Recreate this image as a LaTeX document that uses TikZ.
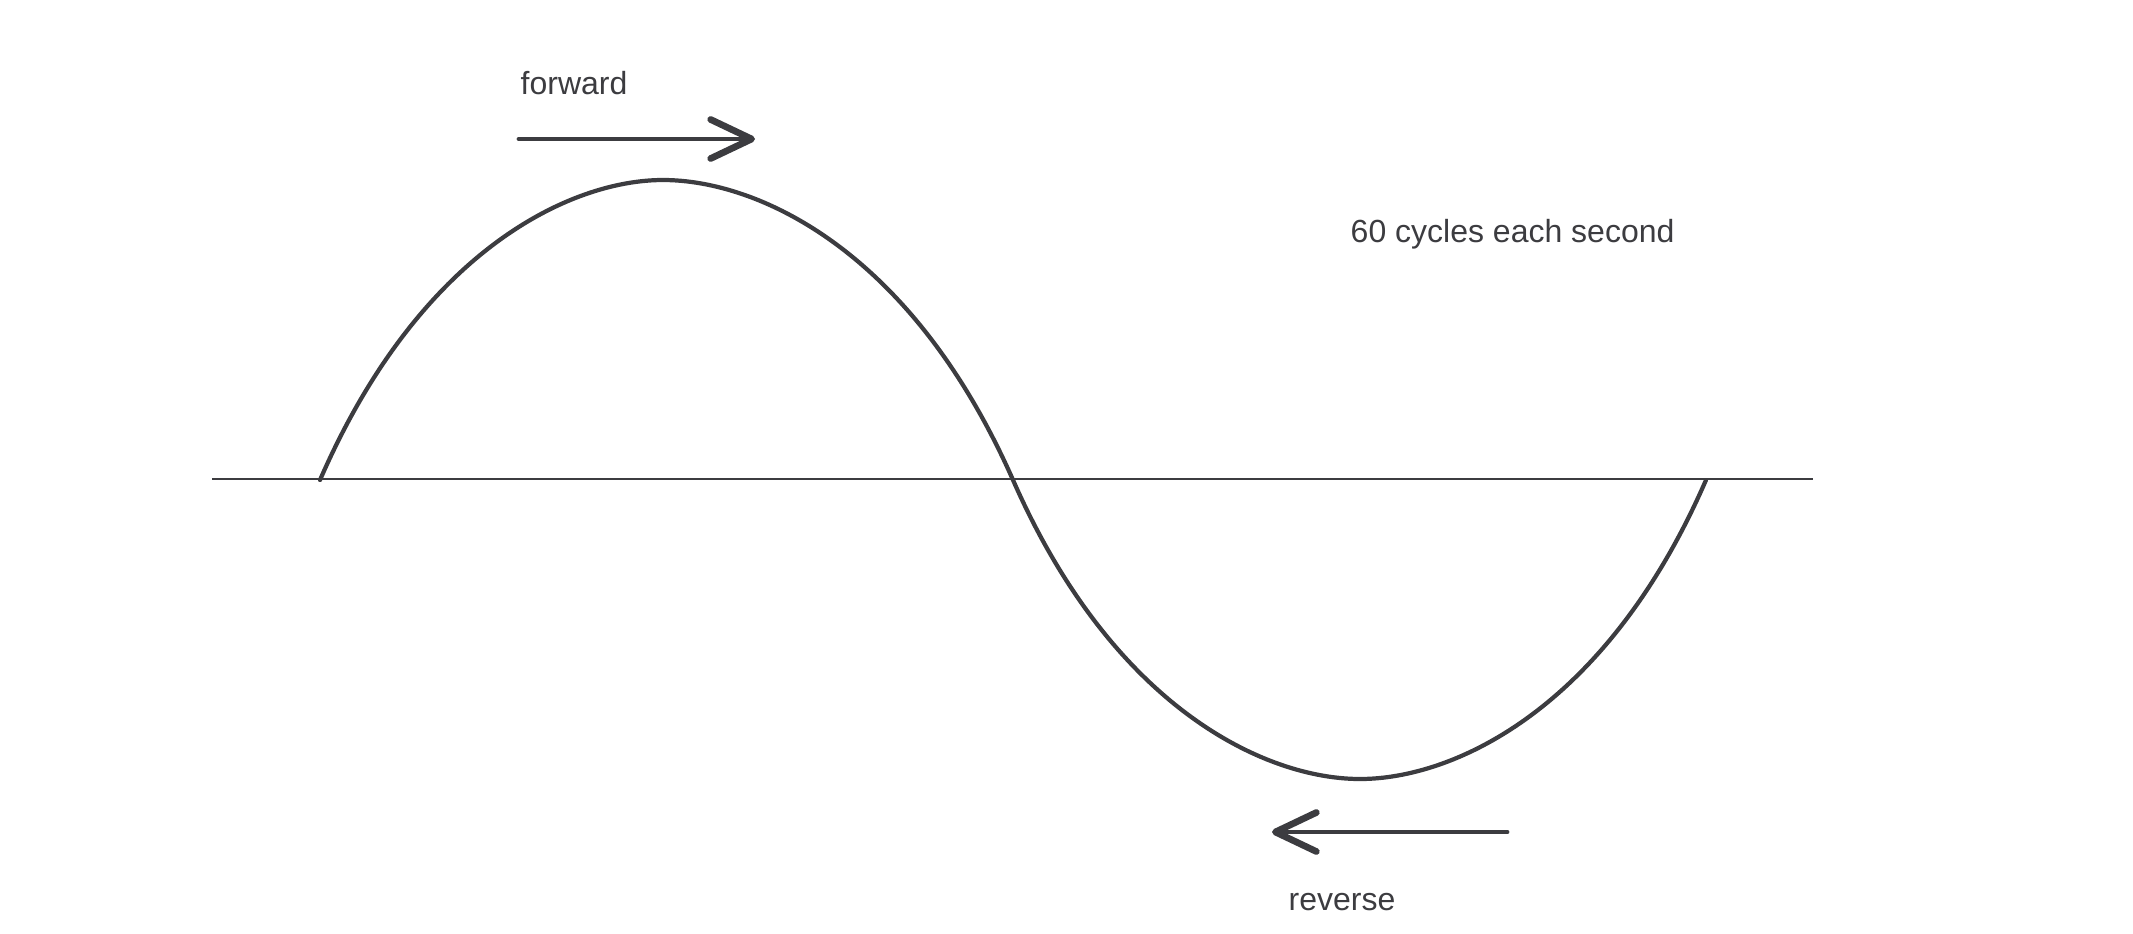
\documentclass[tikz,border=0pt]{standalone}
\usepackage{fontspec}
\setmainfont{Liberation Sans}
\usepackage{tikz}
\usetikzlibrary{arrows.meta}
\definecolor{ink}{RGB}{60,60,64}

\begin{document}
\begin{tikzpicture}[x=0.01cm, y=-0.01cm, color=ink, font=\fontsize{9.1}{11}\selectfont,
  bigarrow/.style={line width=1.4pt, line cap=round, -{Straight Barb[length=4.1mm, width=3.9mm, line width=1.9pt, round]}}]
\useasboundingbox (0,0) rectangle (2133,933);
%\draw[help lines] (0,0) grid (2133,933);
\coordinate (axl) at (212,479);
\coordinate (axr) at (1813,479);
\node (fwd) [anchor=base west, inner sep=0] at (520,94) {forward};
\node (cyc) [anchor=base west, inner sep=0] at (1350,242) {60 cycles each second};
\node (rev) [anchor=base west, inner sep=0] at (1288,910) {reverse};
\coordinate (fa) at (519,139);
\coordinate (fb) at (755,139);
\coordinate (ra) at (1507,832);
\coordinate (rb) at (1272,832);
% wave
\coordinate (s) at (320,480);
\coordinate (top) at (663,180);
\coordinate (z) at (1013,480);
\coordinate (bot) at (1360,779);
\coordinate (e) at (1706,480);
\draw[line width=0.6pt] (axl) -- (axr);
\draw[line width=1.2pt, line cap=round]
(s) .. controls (420,250) and (571,180) .. (top)
    .. controls (757,180) and (911,249) .. (z)
    .. controls (1114,710) and (1267,779) .. (bot)
    .. controls (1453,779) and (1606,710) .. (e);
\path
(fa) edge[bigarrow] (fb)
(ra) edge[bigarrow] (rb);
\end{tikzpicture}
\end{document}
